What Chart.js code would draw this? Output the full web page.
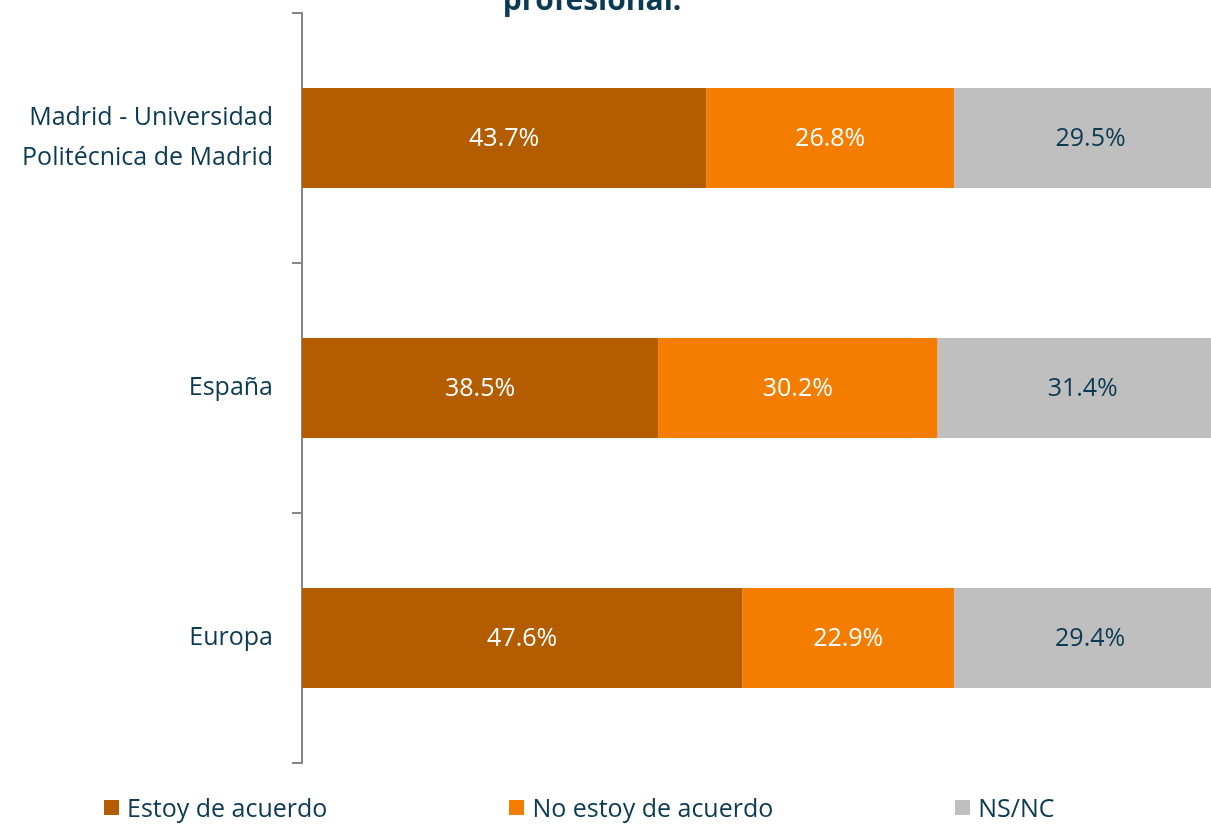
<!DOCTYPE html>
<html>
<head>
<meta charset="utf-8">
<script src="https://cdn.jsdelivr.net/npm/chart.js@4/dist/chart.umd.min.js"></script>
<style>
  html, body { margin: 0; padding: 0; background: #fff; overflow: hidden; width: 1211px; height: 824px; }
  #wrap { position: absolute; left: 0; top: 0; width: 1227px; height: 824px; }
  #titre { position: absolute; left: 0; width: 1184px; top: -22px; text-align: center; line-height: 40px;
    font: bold 30px "Open Sans", sans-serif; color: #0b3a52; }
  #legende { position: absolute; top: 790px; left: 104px; display: flex; gap: 182px;
    font: 25px "Open Sans", sans-serif; color: #0b3a52; }
  #legende .item { display: flex; align-items: center; }
  #legende .pastille { width: 15px; height: 15px; margin-right: 8px; }
</style>
</head>
<body>
<div id="wrap">
  <canvas id="graphique" width="1227" height="824"></canvas>
</div>
<div id="titre">profesional.</div>
<div id="legende"></div>
<script>
// === DONNÉES ===
const categories = [['Madrid - Universidad', 'Politécnica de Madrid'], 'España', 'Europa'];
const seriesNoms = ['Estoy de acuerdo', 'No estoy de acuerdo', 'NS/NC'];
const deAcuerdo = [43.7, 38.5, 47.6];
const noDeAcuerdo = [26.8, 30.2, 22.9];
const nsnc = [29.5, 31.4, 29.4];

const couleurs = ['#b45c00', '#f47d00', '#bfbfbf'];
const couleursTexte = ['#ffffff', '#ffffff', '#0b3a52'];
const texteFonce = '#0b3a52';

// LÉGENDE HTML
const legende = document.getElementById('legende');
seriesNoms.forEach((nom, i) => {
  const div = document.createElement('div');
  div.className = 'item';
  div.innerHTML = `<div class="pastille" style="background:${couleurs[i]}"></div><span>${nom}</span>`;
  legende.appendChild(div);
});

// ÉTIQUETTES DE VALEURS DANS LES BARRES
const etiquettes = {
  id: 'etiquettes',
  afterDatasetsDraw(chart) {
    const ctx = chart.ctx;
    ctx.save();
    ctx.font = '25px "Open Sans", sans-serif';
    ctx.textAlign = 'center';
    ctx.textBaseline = 'middle';
    chart.data.datasets.forEach((ds, i) => {
      const meta = chart.getDatasetMeta(i);
      meta.data.forEach((barre, j) => {
        const p = barre.getProps(['x', 'y', 'base'], true);
        ctx.fillStyle = couleursTexte[i];
        ctx.fillText(ds.data[j].toFixed(1) + '%', (p.x + p.base) / 2, p.y + 1);
      });
    });
    ctx.restore();
  }
};

const valeurs = [deAcuerdo, noDeAcuerdo, nsnc];

new Chart(document.getElementById('graphique'), {
  type: 'bar',
  data: {
    labels: categories,
    datasets: seriesNoms.map((nom, i) => ({
      label: nom,
      data: valeurs[i],
      backgroundColor: couleurs[i],
      borderWidth: 0,
      barPercentage: 0.4,
      categoryPercentage: 1
    }))
  },
  options: {
    indexAxis: 'y',
    responsive: false,
    animation: false,
    layout: { padding: { top: 13, bottom: 61, left: 0, right: 0 } },
    plugins: {
      legend: { display: false },
      tooltip: { enabled: false }
    },
    scales: {
      x: {
        stacked: true,
        min: 0,
        max: 100,
        display: false
      },
      y: {
        stacked: true,
        afterFit: s => { s.width = 302; s.paddingTop = 0; s.paddingBottom = 0; },
        border: { display: true, color: '#878787', width: 2 },
        grid: {
          offset: true,
          drawOnChartArea: false,
          drawTicks: true,
          tickLength: 10,
          color: '#878787',
          lineWidth: 2
        },
        ticks: {
          padding: 19,
          color: texteFonce,
          font: { family: '"Open Sans", sans-serif', size: 25, lineHeight: 1.6 }
        }
      }
    }
  },
  plugins: [etiquettes]
});
</script>
</body>
</html>
